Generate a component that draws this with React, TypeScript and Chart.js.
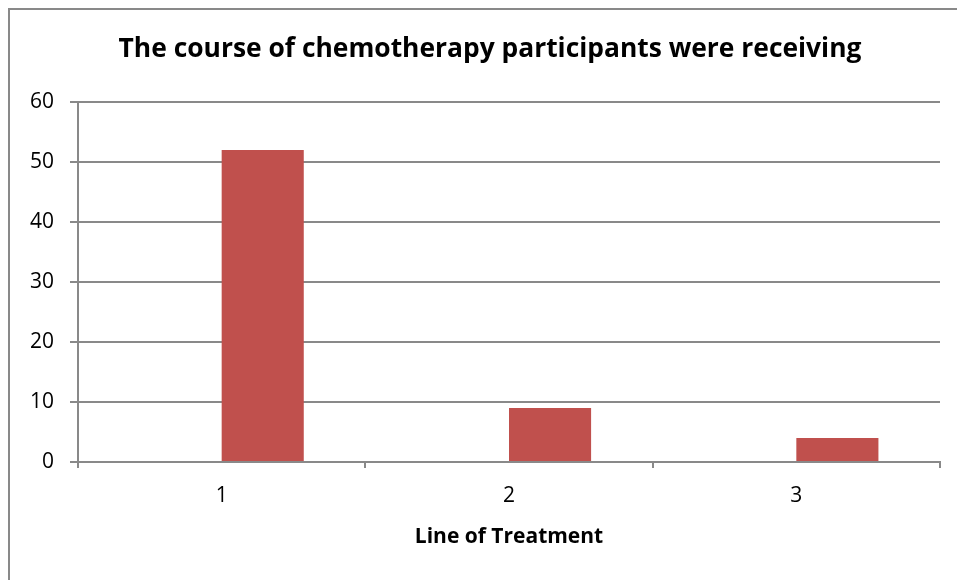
import React, { useEffect, useRef } from "react";
import { Chart, registerables } from "chart.js";

Chart.register(...registerables);

const categories = ["1", "2", "3"];
const emptySeries: (number | null)[] = [null, null, null];
const participants = [52, 9, 4];
const yTicks = { min: 0, max: 60, step: 10 };
const titleText = "The course of chemotherapy participants were receiving";
const xAxisTitle = "Line of Treatment";

const GRID = "#898989";
const FONT = "'Open Sans', sans-serif";

const titleShift = {
  id: "titleShift",
  afterLayout(chart: any) {
    const tb = chart.titleBlock;
    if (tb) {
      tb.left = 40;
      tb.right = 940;
    }
  },
};

export default function App() {
  const ref = useRef<HTMLCanvasElement | null>(null);

  useEffect(() => {
    document.body.style.overflow = "hidden";
    const canvas = ref.current;
    if (!canvas) return;
    const chart = new Chart(canvas, {
      type: "bar",
      data: {
        labels: categories,
        datasets: [
          {
            label: "Series 1",
            data: emptySeries,
            backgroundColor: "#4F81BD",
          },
          {
            label: "Participants",
            data: participants,
            backgroundColor: "#C0504D",
          },
        ],
      },
      options: {
        responsive: false,
        animation: false,
        layout: { padding: { left: 0, right: 17, top: 0, bottom: 0 } },
        datasets: {
          bar: { categoryPercentage: 2 / 3.5, barPercentage: 1 },
        },
        plugins: {
          legend: { display: false },
          tooltip: { enabled: false },
          title: {
            display: true,
            text: titleText,
            color: "#000",
            font: { family: FONT, size: 26.4, weight: "bold", lineHeight: 1.2 },
            padding: { top: 34, bottom: 36.3 },
          },
        },
        scales: {
          x: {
            grid: {
              offset: true,
              drawOnChartArea: false,
              drawTicks: true,
              tickLength: 6,
              color: GRID,
              lineWidth: 2,
            },
            border: { color: GRID, width: 2 },
            ticks: {
              color: "#000",
              font: { family: FONT, size: 21 },
              padding: 15,
            },
            title: {
              display: true,
              text: xAxisTitle,
              color: "#000",
              font: { family: FONT, size: 21, weight: "bold", lineHeight: 1.2 },
              padding: { top: 0, bottom: 30 },
            },
            afterFit: (scale: any) => {
              scale.height = 118;
            },
          },
          y: {
            min: yTicks.min,
            max: yTicks.max,
            grid: {
              drawTicks: true,
              tickLength: 8,
              color: GRID,
              lineWidth: 2,
            },
            border: { color: GRID, width: 2 },
            ticks: {
              stepSize: yTicks.step,
              color: "#000",
              font: { family: FONT, size: 21 },
              padding: 16,
            },
            afterFit: (scale: any) => {
              scale.width = 78;
            },
          },
        },
      },
      plugins: [titleShift],
    });
    return () => chart.destroy();
  }, []);

  return (
    <>
      <div
        style={{
          position: "fixed",
          left: 8,
          top: 8,
          width: 980,
          height: 600,
          border: `2px solid ${GRID}`,
          boxSizing: "border-box",
        }}
      />
      <canvas
        ref={ref}
        width={957}
        height={580}
        style={{ position: "fixed", left: 0, top: 0, width: 957, height: 580 }}
      />
    </>
  );
}
